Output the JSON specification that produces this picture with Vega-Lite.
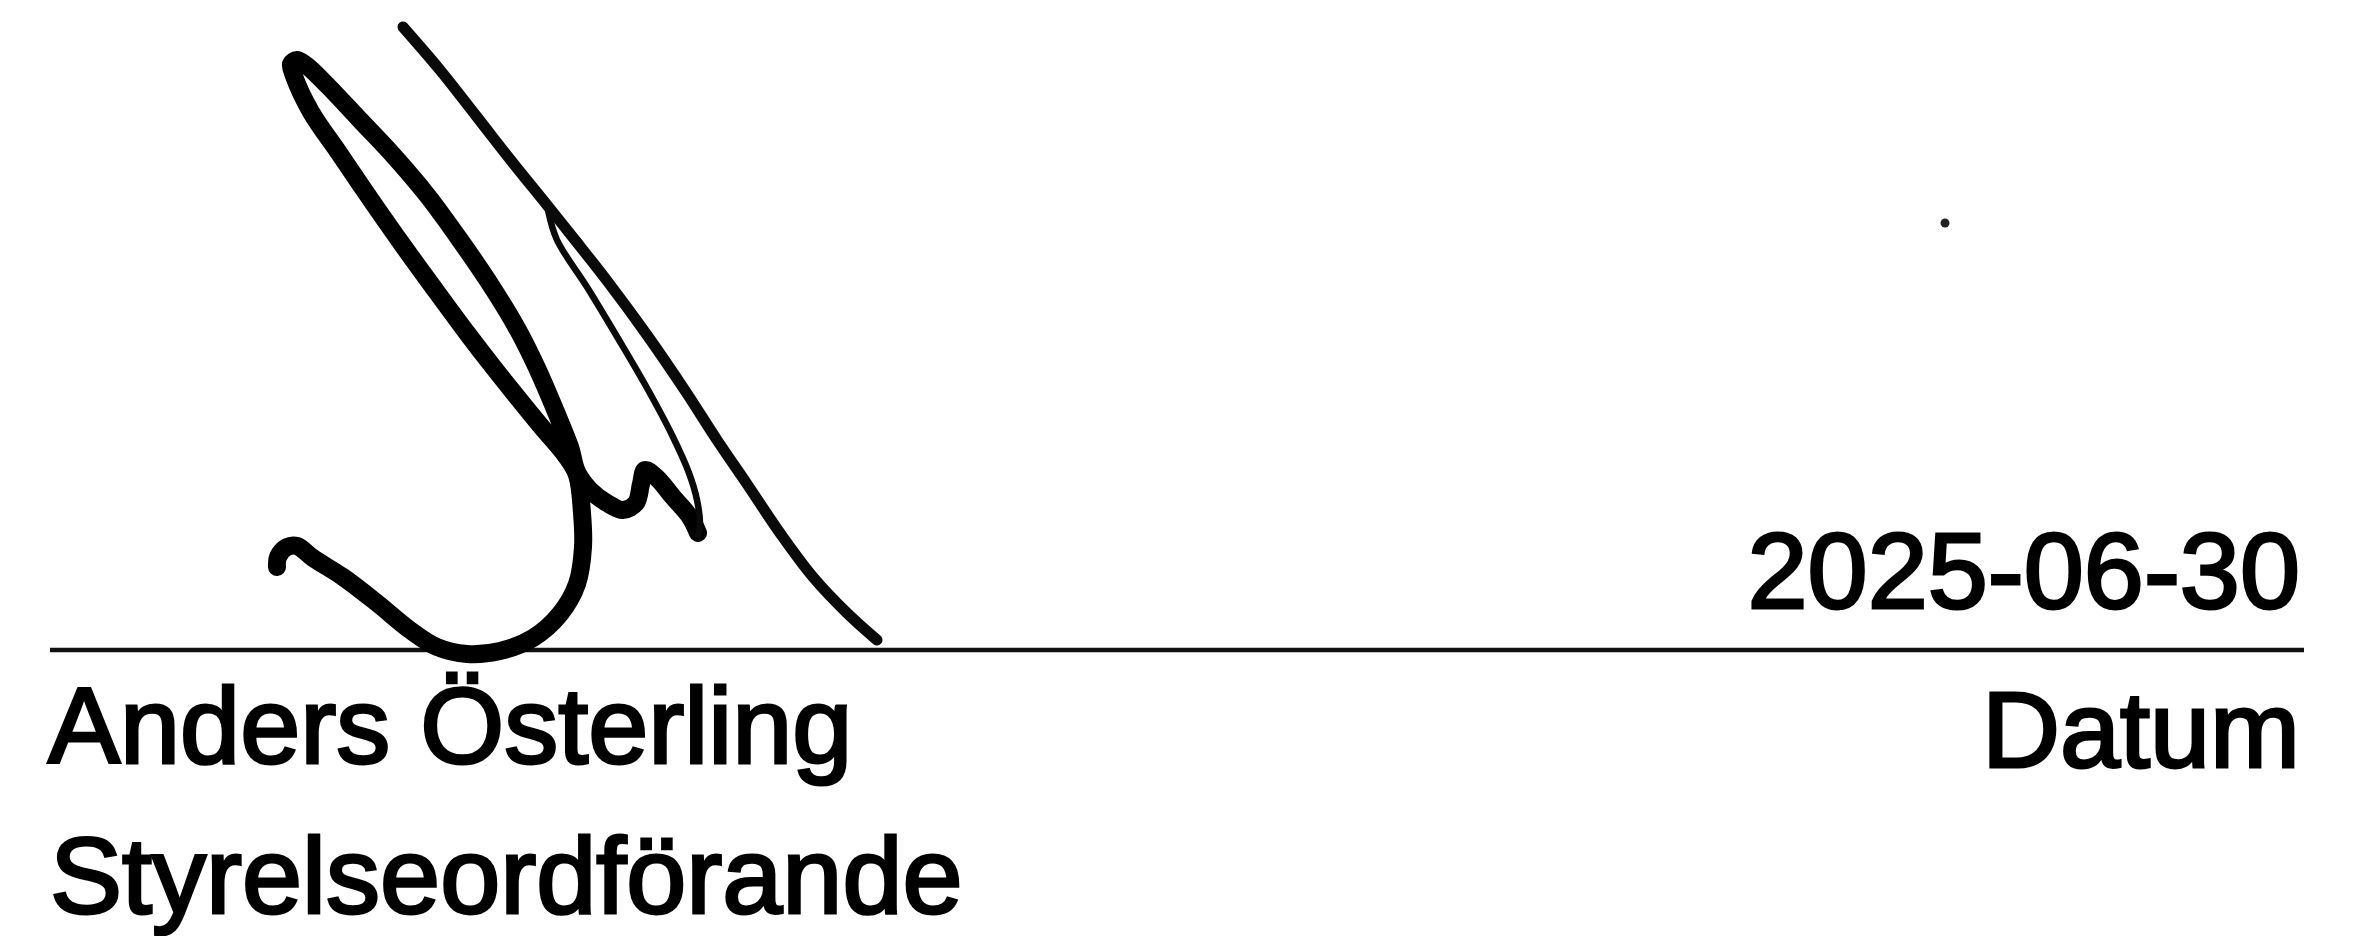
{
  "$schema": "https://vega.github.io/schema/vega-lite/v6.json",
  "width": 2369,
  "height": 936,
  "autosize": {"type": "fit", "contains": "padding"},
  "padding": 0,
  "background": "white",
  "config": {"view": {"stroke": null}},
  "datasets": {
    "ink": [
      {"s": "main", "i": 1, "x": 277, "y": 567},
      {"s": "main", "i": 2, "x": 278, "y": 557},
      {"s": "main", "i": 3, "x": 287, "y": 547},
      {"s": "main", "i": 4, "x": 297, "y": 546},
      {"s": "main", "i": 5, "x": 313, "y": 558},
      {"s": "main", "i": 6, "x": 343, "y": 577},
      {"s": "main", "i": 7, "x": 377, "y": 603},
      {"s": "main", "i": 8, "x": 410, "y": 630},
      {"s": "main", "i": 9, "x": 437, "y": 647},
      {"s": "main", "i": 10, "x": 467, "y": 654},
      {"s": "main", "i": 11, "x": 500, "y": 651},
      {"s": "main", "i": 12, "x": 533, "y": 638},
      {"s": "main", "i": 13, "x": 560, "y": 614},
      {"s": "main", "i": 14, "x": 577, "y": 584},
      {"s": "main", "i": 15, "x": 583, "y": 547},
      {"s": "main", "i": 16, "x": 582, "y": 513},
      {"s": "main", "i": 17, "x": 577, "y": 475},
      {"s": "main", "i": 18, "x": 566, "y": 456},
      {"s": "main", "i": 19, "x": 540, "y": 425},
      {"s": "main", "i": 20, "x": 494, "y": 368},
      {"s": "main", "i": 21, "x": 467, "y": 333},
      {"s": "main", "i": 22, "x": 436, "y": 291},
      {"s": "main", "i": 23, "x": 404, "y": 247},
      {"s": "main", "i": 24, "x": 371, "y": 200},
      {"s": "main", "i": 25, "x": 339, "y": 153},
      {"s": "main", "i": 26, "x": 311, "y": 112},
      {"s": "main", "i": 27, "x": 294, "y": 76},
      {"s": "main", "i": 28, "x": 291, "y": 64},
      {"s": "main", "i": 29, "x": 297, "y": 60},
      {"s": "main", "i": 30, "x": 306, "y": 65},
      {"s": "main", "i": 31, "x": 327, "y": 85},
      {"s": "main", "i": 32, "x": 360, "y": 120},
      {"s": "main", "i": 33, "x": 393, "y": 155},
      {"s": "main", "i": 34, "x": 427, "y": 195},
      {"s": "main", "i": 35, "x": 460, "y": 240},
      {"s": "main", "i": 36, "x": 492, "y": 287},
      {"s": "main", "i": 37, "x": 518, "y": 330},
      {"s": "main", "i": 38, "x": 537, "y": 368},
      {"s": "main", "i": 39, "x": 556, "y": 412},
      {"s": "main", "i": 40, "x": 570, "y": 447},
      {"s": "main", "i": 41, "x": 577, "y": 472},
      {"s": "main", "i": 42, "x": 590, "y": 490},
      {"s": "main", "i": 43, "x": 607, "y": 503},
      {"s": "main", "i": 44, "x": 623, "y": 510},
      {"s": "main", "i": 45, "x": 636, "y": 503},
      {"s": "main", "i": 46, "x": 641, "y": 484},
      {"s": "main", "i": 47, "x": 645, "y": 470},
      {"s": "main", "i": 48, "x": 657, "y": 478},
      {"s": "main", "i": 49, "x": 673, "y": 497},
      {"s": "main", "i": 50, "x": 690, "y": 517},
      {"s": "main", "i": 51, "x": 698, "y": 533},
      {"s": "long", "i": 1, "x": 403, "y": 27},
      {"s": "long", "i": 2, "x": 440, "y": 70},
      {"s": "long", "i": 3, "x": 477, "y": 117},
      {"s": "long", "i": 4, "x": 513, "y": 163},
      {"s": "long", "i": 5, "x": 547, "y": 205},
      {"s": "long", "i": 6, "x": 575, "y": 240},
      {"s": "long", "i": 7, "x": 608, "y": 282},
      {"s": "long", "i": 8, "x": 647, "y": 335},
      {"s": "long", "i": 9, "x": 686, "y": 392},
      {"s": "long", "i": 10, "x": 717, "y": 440},
      {"s": "long", "i": 11, "x": 747, "y": 484},
      {"s": "long", "i": 12, "x": 780, "y": 533},
      {"s": "long", "i": 13, "x": 813, "y": 577},
      {"s": "long", "i": 14, "x": 847, "y": 613},
      {"s": "long", "i": 15, "x": 877, "y": 640},
      {"s": "thin", "i": 1, "x": 548, "y": 210},
      {"s": "thin", "i": 2, "x": 557, "y": 240},
      {"s": "thin", "i": 3, "x": 587, "y": 287},
      {"s": "thin", "i": 4, "x": 619, "y": 340},
      {"s": "thin", "i": 5, "x": 647, "y": 388},
      {"s": "thin", "i": 6, "x": 672, "y": 435},
      {"s": "thin", "i": 7, "x": 689, "y": 473},
      {"s": "thin", "i": 8, "x": 697, "y": 500},
      {"s": "thin", "i": 9, "x": 700, "y": 525},
      {"s": "thin", "i": 10, "x": 698, "y": 535}
    ],
    "labels": [
      {"t": "2025-06-30", "x": 2300, "y": 608, "a": "right"},
      {"t": "Anders Österling", "x": 48, "y": 763, "a": "left"},
      {"t": "Datum", "x": 2300, "y": 767, "a": "right"},
      {"t": "Styrelseordförande", "x": 50, "y": 913, "a": "left"}
    ]
  },
  "layer": [
    {
      "data": {"values": [{"x": 50, "x2": 2304, "y": 650}]},
      "mark": {"type": "rule", "color": "#111111", "strokeWidth": 4.5},
      "encoding": {
        "x": {"field": "x", "type": "quantitative", "scale": {"domain": [0, 2369]}, "axis": null},
        "x2": {"field": "x2"},
        "y": {"field": "y", "type": "quantitative", "scale": {"domain": [936, 0]}, "axis": null}
      }
    },
    {
      "data": {"name": "ink"},
      "transform": [{"filter": "datum.s === 'main'"}],
      "mark": {"type": "line", "color": "#000000", "strokeWidth": 18, "interpolate": "catmull-rom", "strokeCap": "round", "strokeJoin": "round"},
      "encoding": {
        "x": {"field": "x", "type": "quantitative", "scale": {"domain": [0, 2369]}, "axis": null},
        "y": {"field": "y", "type": "quantitative", "scale": {"domain": [936, 0]}, "axis": null},
        "order": {"field": "i", "type": "quantitative"}
      }
    },
    {
      "data": {"name": "ink"},
      "transform": [{"filter": "datum.s === 'long'"}],
      "mark": {"type": "line", "color": "#0a0a0a", "strokeWidth": 11, "interpolate": "catmull-rom", "strokeCap": "round"},
      "encoding": {
        "x": {"field": "x", "type": "quantitative", "scale": {"domain": [0, 2369]}, "axis": null},
        "y": {"field": "y", "type": "quantitative", "scale": {"domain": [936, 0]}, "axis": null},
        "order": {"field": "i", "type": "quantitative"}
      }
    },
    {
      "data": {"name": "ink"},
      "transform": [{"filter": "datum.s === 'thin'"}],
      "mark": {"type": "line", "color": "#0a0a0a", "strokeWidth": 6.5, "interpolate": "catmull-rom", "strokeCap": "round"},
      "encoding": {
        "x": {"field": "x", "type": "quantitative", "scale": {"domain": [0, 2369]}, "axis": null},
        "y": {"field": "y", "type": "quantitative", "scale": {"domain": [936, 0]}, "axis": null},
        "order": {"field": "i", "type": "quantitative"}
      }
    },
    {
      "data": {"values": [{"x": 1945, "y": 223}]},
      "mark": {"type": "point", "filled": true, "color": "#222222", "size": 80, "opacity": 1},
      "encoding": {
        "x": {"field": "x", "type": "quantitative", "scale": {"domain": [0, 2369]}, "axis": null},
        "y": {"field": "y", "type": "quantitative", "scale": {"domain": [936, 0]}, "axis": null}
      }
    },
    {
      "data": {"name": "labels"},
      "transform": [{"filter": "datum.a === 'left'"}],
      "mark": {"type": "text", "font": "Liberation Sans", "fontSize": 108, "color": "#000000", "stroke": "#000000", "strokeWidth": 3, "align": "left", "baseline": "alphabetic"},
      "encoding": {
        "x": {"field": "x", "type": "quantitative", "scale": {"domain": [0, 2369]}, "axis": null},
        "y": {"field": "y", "type": "quantitative", "scale": {"domain": [936, 0]}, "axis": null},
        "text": {"field": "t"}
      }
    },
    {
      "data": {"name": "labels"},
      "transform": [{"filter": "datum.a === 'right'"}],
      "mark": {"type": "text", "font": "Liberation Sans", "fontSize": 108, "color": "#000000", "stroke": "#000000", "strokeWidth": 3, "align": "right", "baseline": "alphabetic"},
      "encoding": {
        "x": {"field": "x", "type": "quantitative", "scale": {"domain": [0, 2369]}, "axis": null},
        "y": {"field": "y", "type": "quantitative", "scale": {"domain": [936, 0]}, "axis": null},
        "text": {"field": "t"}
      }
    }
  ]
}
